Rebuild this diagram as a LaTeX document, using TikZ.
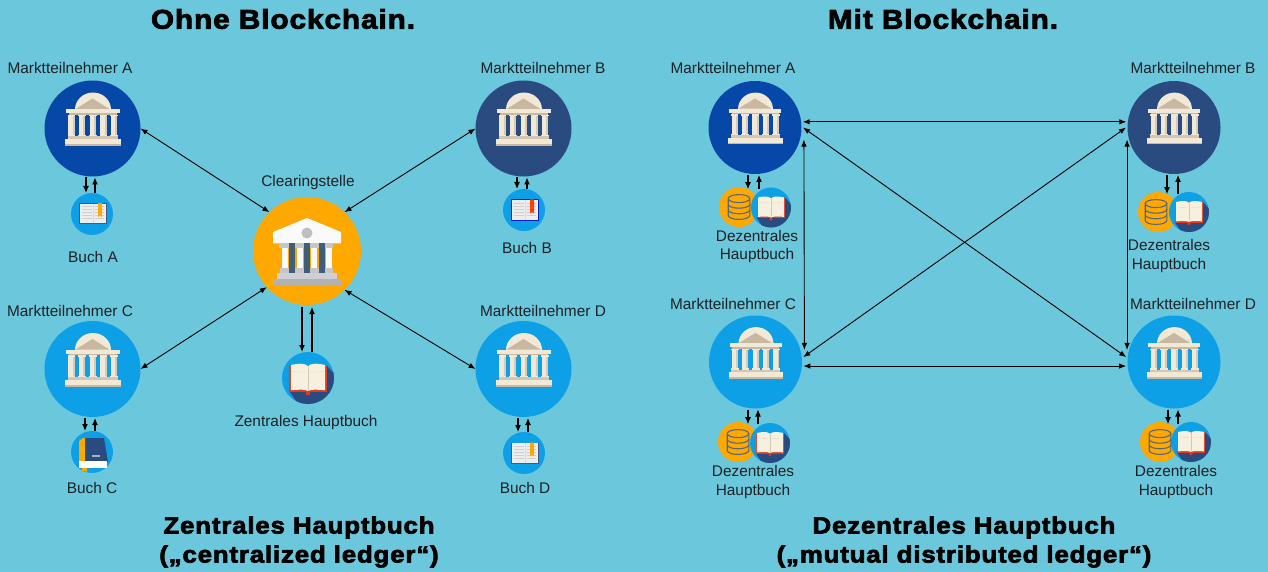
\documentclass[tikz,border=0pt]{standalone}
\usepackage{fontspec}
\setmainfont{Liberation Sans}
\newfontfamily\titlefont[LetterSpace=3.5,FakeStretch=1.1,BoldFeatures={FakeBold=3,LetterSpace=3.5,FakeStretch=1.1}]{Liberation Sans}
\usetikzlibrary{arrows.meta}
\definecolor{bg}{HTML}{6BC7DC}
\definecolor{royal}{HTML}{0648A8}
\definecolor{navy}{HTML}{2A4B7F}
\definecolor{sky}{HTML}{0EA0E6}
\definecolor{amber}{HTML}{FFA800}
\definecolor{cream}{HTML}{F1E8D6}
\definecolor{tan}{HTML}{C8B8A2}
\definecolor{pagec}{HTML}{F6F0DF}
\definecolor{txt}{HTML}{1C2226}
\definecolor{pillar}{HTML}{3F5F78}
\definecolor{dbline}{HTML}{56687E}
\tikzset{
  disc/.style={circle,inner sep=0pt,outer sep=0pt,draw=none,minimum size=#1},
  arr/.style={{Latex[length=7pt,width=5.5pt]}-{Latex[length=7pt,width=5.5pt]},line width=.9pt,black},
  onearr/.style={-{Latex[length=7pt,width=6pt]},line width=1.1pt,black},
  lab/.style={font=\fontsize{15.4}{18.7}\selectfont,text=txt,align=center,inner sep=0pt},
  ttl/.style={font=\titlefont\bfseries\fontsize{27}{29}\selectfont,text=black,align=center,inner sep=0pt},
  ttlb/.style={font=\titlefont\bfseries\fontsize{23.5}{29}\selectfont,text=black,align=center,inner sep=0pt},
}
% classical temple icon, scaled by s around its disc centre
\newcommand{\temple}[3]{\begin{scope}[shift={(#1,#2)},x=#3pt,y=-#3pt]
  \fill[cream] (-17.5,-19) arc[start angle=180,end angle=360,x radius=18,y radius=17] -- cycle;
  \fill[tan] (0,-30) -- (17,-19.5) -- (-17,-19.5) -- cycle;
  \fill[cream] (-26.5,-19.5) rectangle (27,-15);
  \fill[tan] (-24,-15) rectangle (24.5,-13.8);
  \foreach \c in {-21,-10.5,.5,11,21.5}{
    \fill[cream] (\c-3.2,-13.8) rectangle (\c+3.2,9);
    \fill[tan!60!cream] (\c+1.2,-13.8) rectangle (\c+3.2,9);
    \fill[cream] (\c-3.8,-13.8) rectangle (\c+3.8,-12);
    \fill[cream] (\c-3.8,6.5) rectangle (\c+3.8,8.5);}
  \fill[tan!70!cream] (-25,8) rectangle (25.5,10.5);
  \fill[cream] (-27.5,10.5) rectangle (28.5,15.5);
  \fill[tan] (-27.5,15.5) rectangle (28.5,17.5);
\end{scope}}
% small open book with bookmark: centre x, y, edge colour, bookmark colour
\newcommand{\smallbook}[4]{\begin{scope}[shift={(#1,#2)}]
  \fill[#3] (-14,-10.5) rectangle (14,10.5);
  \fill[gray!14] (-13,-9.7) rectangle (13,9.5);
  \foreach \yy in {-7,-4,-1,2,5}{
    \draw[gray!38,line width=.6pt] (-11,\yy) -- (-1.5,\yy) (1.5,\yy) -- (11,\yy);}
  \fill[white!70!gray] (-.5,-9.7) rectangle (.5,9.5);
  \fill[#4] (5,-10.5) -- (9,-10.5) -- (9,3.5) -- (7,2) -- (5,3.5) -- cycle;
\end{scope}}
% larger open book with long shadow: centre, radius
\newcommand{\bigbook}[3]{\begin{scope}[shift={(#1,#2)},x=#3pt,y=-#3pt]
  \begin{scope}
    \clip (0,0) circle[radius=1];
    \fill[navy] (-.72,.5) -- (.7,-.5) -- (1.2,.05) -- (1.2,1.2) -- (-.25,1.2) -- cycle;
  \end{scope}
  \fill[red!55!brown] (0,.58) circle[radius=.09];
  \fill[red!55!brown] (-.72,-.5) -- (-.72,.54) -- (.72,.54) -- (.72,-.5) -- cycle;
  \fill[pagec] (-.66,-.5) .. controls (-.3,-.58) and (-.1,-.56) .. (0,-.46)
     .. controls (.1,-.56) and (.3,-.58) .. (.66,-.5) -- (.66,.47)
     .. controls (.3,.44) and (.1,.44) .. (0,.5)
     .. controls (-.1,.44) and (-.3,.44) .. (-.66,.47) -- cycle;
  \draw[tan!70!pagec,line width=.5pt] (0,-.46) -- (0,.5);
  \draw[tan!35!pagec,line width=.5pt] (.1,-.22) -- (.58,-.25) (-.1,-.22) -- (-.58,-.25);
\end{scope}}
% database stack
\newcommand{\dbstack}[3]{\begin{scope}[shift={(#1,#2)},x=#3pt,y=-#3pt,line width=1.1pt,draw=dbline]
  \draw (0,-.42) ellipse[x radius=.54,y radius=.2];
  \draw (-.54,-.42) -- (-.54,.42) arc[start angle=180,end angle=0,x radius=.54,y radius=.2] -- (.54,-.42);
  \draw (-.54,-.14) arc[start angle=180,end angle=0,x radius=.54,y radius=.2];
  \draw (-.54,.14) arc[start angle=180,end angle=0,x radius=.54,y radius=.2];
\end{scope}}
\begin{document}
\begin{tikzpicture}[x=1pt,y=-1pt]
\useasboundingbox (0,0) rectangle (1268,572);
\fill[bg] (0,0) rectangle (1268,572);

% ---------- left
\node[disc=96pt,fill=royal] (A) at (92.5,128.5) {};
\node[disc=96pt,fill=navy]  (B) at (523.5,128.5) {};
\node[disc=96pt,fill=sky]   (C) at (92.5,369) {};
\node[disc=96pt,fill=sky]   (D) at (523.5,369) {};
\node[disc=108pt,fill=amber] (Z) at (307,251) {};
\node[disc=42pt,fill=sky] (bA) at (92,214) {};
\node[disc=42pt,fill=sky] (bB) at (524,210) {};
\node[disc=42pt,fill=sky] (bC) at (92,452) {};
\node[disc=42pt,fill=sky] (bD) at (524,453) {};
\node[disc=52pt,fill=sky] (bZ) at (308,378) {};
\temple{92.5}{128.5}{1}\temple{523.5}{128.5}{1}\temple{92.5}{369}{1}\temple{523.5}{369}{1}
\smallbook{93}{213.5}{navy!70!gray}{amber}
\smallbook{525}{210}{blue!60!navy}{red!50!orange}
\smallbook{525}{453}{navy!70!gray}{amber}
% closed book C
\fill[navy] (84,438) -- (104,438) -- (108,462) -- (85,462) -- cycle;
\fill[amber] (79,441) -- (83,438) -- (85,438) -- (85,462) -- (79,463) -- cycle;
\fill[white] (79,461) -- (107,461) -- (107,468) -- (79,468) -- cycle;
\fill[amber] (82,468) -- (87,468) -- (87,472) -- (84.5,470.5) -- (82,472) -- cycle;
\fill[gray!60] (92,455) rectangle (100,457);
% clearing house
\begin{scope}[shift={(307,251)}]
  \fill[white!96!gray] (-34,-19) -- (0,-33) -- (34,-19) -- (34,-7.7) -- (-34,-7.7) -- cycle;
  \fill[gray!50!white] (0,-18) circle[radius=5.5];
  \fill[gray!45] (-28,-7.7) rectangle (26,-3);
  \foreach \c in {-22,-7,7,22}{\fill[white!96!gray] (\c-3.3,-3) rectangle (\c+3.3,17);}
  \fill[gray!45] (-27,17) rectangle (26,22);
  \foreach \c in {-15,0,14.5}{\fill[pillar] (\c-3,-7.7) rectangle (\c+3,22);}
  \fill[blue!8!gray!35] (-30,22) rectangle (30,28);
  \fill[gray!60] (-34,28) rectangle (34,34);
\end{scope}
\bigbook{308}{378}{26}

\draw[arr] (A.0) -- (Z.134);
\draw[arr] (B.180) -- (Z.46);
\draw[arr] (C.0) -- (Z.222);
\draw[arr] (D.180) -- (Z.-46);
\draw[onearr] ([xshift=-5pt,yshift=-2pt]Z.south) -- ([xshift=-6pt]bZ.north);
\draw[onearr] ([xshift=4pt]bZ.north) -- ([xshift=5pt,yshift=-2pt]Z.south);
\draw[onearr] ([xshift=-6.5pt,yshift=-1pt]A.south) -- ([xshift=-6pt]bA.north);
\draw[onearr] ([xshift=3pt]bA.north) -- ([xshift=2.5pt,yshift=-1pt]A.south);
\draw[onearr] ([xshift=-6.5pt,yshift=-1pt]B.south) -- ([xshift=-7pt]bB.north);
\draw[onearr] ([xshift=3pt]bB.north) -- ([xshift=3.5pt,yshift=-1pt]B.south);
\draw[onearr] ([xshift=-7.5pt,yshift=-1pt]C.south) -- ([xshift=-7pt]bC.north);
\draw[onearr] ([xshift=3pt]bC.north) -- ([xshift=2.5pt,yshift=-1pt]C.south);
\draw[onearr] ([xshift=-5.5pt,yshift=-1pt]D.south) -- ([xshift=-6pt]bD.north);
\draw[onearr] ([xshift=4pt]bD.north) -- ([xshift=4.5pt,yshift=-1pt]D.south);

\node[ttl] (t1) at (283,19) {Ohne Blockchain.};
\node[lab] (la) at (70,68) {Marktteilnehmer A};
\node[lab] (lb) at (543,68) {Marktteilnehmer B};
\node[lab] (lc) at (70,311) {Marktteilnehmer C};
\node[lab] (ld) at (543,311) {Marktteilnehmer D};
\node[lab] (lz) at (308,183) {Clearingstelle};
\node[lab] (lba) at (93,257) {Buch A};
\node[lab] (lbb) at (527,248) {Buch B};
\node[lab] (lbc) at (92,488) {Buch C};
\node[lab] (lbd) at (525,488) {Buch D};
\node[lab] (lbz) at (306,423) {Zentrales Hauptbuch};
\node[ttlb] (b1) at (299,542) {Zentrales Hauptbuch\\(„centralized ledger“)};

% ---------- right
\node[disc=93pt,fill=royal] (RA) at (755,127.5) {};
\node[disc=93pt,fill=navy]  (RB) at (1174,127.5) {};
\node[disc=93pt,fill=sky]   (RC) at (755.5,362) {};
\node[disc=93pt,fill=sky]   (RD) at (1174,362) {};
\temple{755}{127.5}{.97}\temple{1174}{127.5}{.97}\temple{755.5}{362}{.97}\temple{1174}{362}{.97}

\node[disc=40pt,fill=amber] (oA) at (739,207) {};
\node[disc=40pt,fill=sky]   (kA) at (771,207.5) {};
\node[disc=40pt,fill=amber] (oB) at (1158,212) {};
\node[disc=40pt,fill=sky]   (kB) at (1189,212) {};
\node[disc=40pt,fill=amber] (oC) at (738,442) {};
\node[disc=40pt,fill=sky]   (kC) at (770,443) {};
\node[disc=40pt,fill=amber] (oD) at (1160,442) {};
\node[disc=40pt,fill=sky]   (kD) at (1191,442) {};
\dbstack{739}{207}{20}\bigbook{771}{207.5}{20}
\dbstack{1156}{212}{20}\bigbook{1189}{212}{20}
\dbstack{738}{442}{20}\bigbook{770}{443}{20}
\dbstack{1160}{442}{20}\bigbook{1191}{442}{20}

\draw[arr] ([xshift=1.5pt]RA.7) -- ([xshift=-1.5pt]RB.173);
\draw[arr] ([xshift=1.5pt]RC.-5) -- ([xshift=-1.5pt]RD.185);
\draw[arr] ([xshift=4pt]RA.-15) -- ([xshift=4pt]RC.15);
\draw[arr] ([xshift=-2pt]RB.195) -- ([xshift=-2pt]RD.165);
\draw[arr] ([xshift=1.5pt]RA.0) -- ([xshift=-1.5pt]RD.174);
\draw[arr] ([xshift=1.5pt]RC.6) -- ([xshift=-1.5pt]RB.180);

\draw[onearr] ([xshift=-7pt,yshift=-1pt]RA.south) -- ([xshift=-7pt]RA.south |- oA.63);
\draw[onearr] ([xshift=4pt]RA.south |- oA.63) -- ([xshift=4pt,yshift=-1pt]RA.south);
\draw[onearr] ([xshift=-7pt,yshift=-1pt]RB.south) -- ([xshift=-7pt]RB.south |- oB.63);
\draw[onearr] ([xshift=4pt]RB.south |- oB.63) -- ([xshift=4pt,yshift=-1pt]RB.south);
\draw[onearr] ([xshift=-7.5pt,yshift=-1pt]RC.south) -- ([xshift=-7.5pt]RC.south |- oC.63);
\draw[onearr] ([xshift=2.5pt]RC.south |- oC.63) -- ([xshift=2.5pt,yshift=-1pt]RC.south);
\draw[onearr] ([xshift=-6pt,yshift=-1pt]RD.south) -- ([xshift=-6pt]RD.south |- oD.63);
\draw[onearr] ([xshift=4pt]RD.south |- oD.63) -- ([xshift=4pt,yshift=-1pt]RD.south);

\node[ttl] (t2) at (943,19) {Mit Blockchain.};
\node[lab] (ra) at (733,68) {Marktteilnehmer A};
\node[lab] (rb) at (1193,68) {Marktteilnehmer B};
\node[lab] (rc) at (733,304) {Marktteilnehmer C};
\node[lab] (rd) at (1193,304) {Marktteilnehmer D};
\node[lab] (da) at (757,246.5) {Dezentrales\\Hauptbuch};
\node[lab] (db) at (1169,256) {Dezentrales\\Hauptbuch};
\node[lab] (dc) at (753,482) {Dezentrales\\Hauptbuch};
\node[lab] (dd) at (1176,482) {Dezentrales\\Hauptbuch};
\node[ttlb] (b2) at (964,542) {Dezentrales Hauptbuch\\(„mutual distributed ledger“)};
\end{tikzpicture}
\end{document}
